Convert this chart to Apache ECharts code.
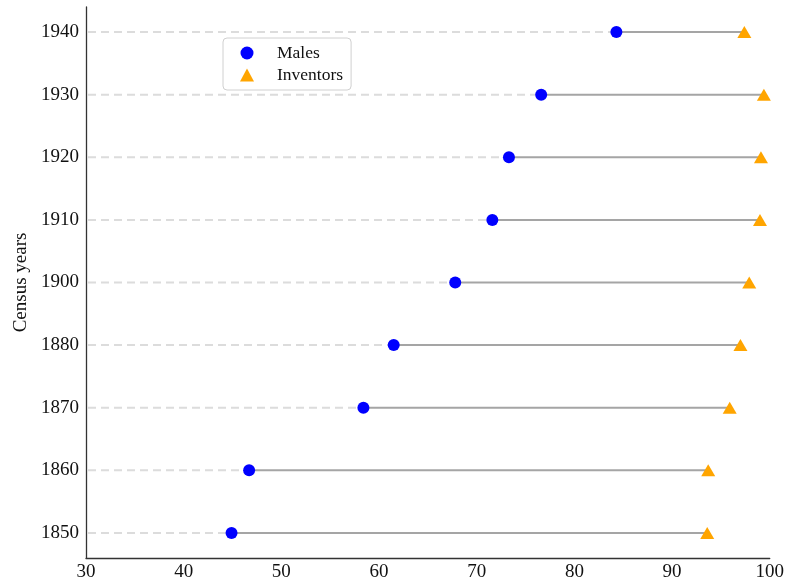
<!DOCTYPE html>
<html>
<head>
<meta charset="utf-8">
<script src="https://cdn.jsdelivr.net/npm/echarts@6/dist/echarts.min.js"></script>
<style>
  html, body { margin: 0; padding: 0; background: #fff; }
  #chart { width: 787px; height: 583px; }
</style>
</head>
<body>
<div id="chart"></div>
<script>
// Census years shown on the vertical axis (bottom to top)
const censusYears = ['1850', '1860', '1870', '1880', '1900', '1910', '1920', '1930', '1940'];
// Share of males in the population, per census year
const malesValues = [44.9, 46.7, 58.4, 61.5, 67.8, 71.6, 73.3, 76.6, 84.3];
// Share of males among inventors, per census year
const inventorsValues = [93.6, 93.7, 95.9, 97.0, 97.9, 99.0, 99.1, 99.4, 97.4];
// Horizontal axis range and tick labels
const xTicks = [30, 40, 50, 60, 70, 80, 90, 100];

const xMin = xTicks[0];
const xMax = xTicks[xTicks.length - 1];
const rowIdx = censusYears.map((_, i) => i);

const FONT = '"Liberation Serif", "DejaVu Serif", serif';

const chart = echarts.init(document.getElementById('chart'), null, { renderer: 'canvas' });

const option = {
  animation: false,
  backgroundColor: '#ffffff',
  grid: { left: 86, right: 15, top: 7, bottom: 25, containLabel: false },
  xAxis: {
    type: 'value',
    min: xMin,
    max: xMax,
    interval: 10,
    axisLine: { show: true, onZero: false, lineStyle: { color: '#333', width: 1.3 } },
    axisTick: { show: false },
    splitLine: { show: false },
    axisLabel: { color: '#111', fontFamily: FONT, fontSize: 19, margin: 5 }
  },
  yAxis: {
    type: 'value',
    min: -0.4,
    max: rowIdx.length - 1 + 0.4,
    name: 'Census years',
    nameLocation: 'middle',
    nameGap: 54,
    nameRotate: 90,
    nameTextStyle: { color: '#111', fontFamily: FONT, fontSize: 19 },
    axisLine: { show: true, onZero: false, lineStyle: { color: '#333', width: 1.3 } },
    axisTick: { show: false, customValues: rowIdx },
    splitLine: { show: false },
    axisLabel: {
      customValues: rowIdx,
      color: '#111',
      fontFamily: FONT,
      fontSize: 19,
      margin: 7,
      formatter: v => censusYears[Math.round(v)] ?? ''
    }
  },
  legend: {
    left: 223,
    top: 38,
    orient: 'vertical',
    padding: [6, 8, 6, 17],
    itemWidth: 14,
    itemHeight: 13,
    itemGap: 4,
    borderColor: '#d0d0d0',
    borderWidth: 1,
    borderRadius: 4,
    backgroundColor: '#ffffff',
    textStyle: { color: '#111', fontFamily: FONT, fontSize: 17.5, padding: [0, 0, 0, 18] },
    data: [
      { name: 'Males', icon: 'circle' },
      { name: 'Inventors', icon: 'triangle' }
    ]
  },
  series: [
    {
      // dashed guide from the axis to the male value, solid link to the inventor value
      type: 'custom',
      silent: true,
      z: 1,
      data: rowIdx.map(i => [i, malesValues[i], inventorsValues[i]]),
      encode: { y: 0, x: [1, 2] },
      renderItem: function (params, api) {
        const y = api.value(0);
        const p0 = api.coord([xMin, y]);
        const pm = api.coord([api.value(1), y]);
        const pi = api.coord([api.value(2), y]);
        return {
          type: 'group',
          children: [
            {
              type: 'line',
              shape: { x1: p0[0] + 2, y1: p0[1], x2: pm[0], y2: pm[1] },
              style: { stroke: '#dcdcdc', lineWidth: 2, lineDash: [8, 5] }
            },
            {
              type: 'line',
              shape: { x1: pm[0], y1: pm[1], x2: pi[0], y2: pi[1] },
              style: { stroke: '#a5a5a5', lineWidth: 2 }
            }
          ]
        };
      }
    },
    {
      name: 'Males',
      type: 'scatter',
      z: 3,
      symbol: 'circle',
      symbolSize: 12,
      itemStyle: { color: '#0000ff', opacity: 1 },
      data: rowIdx.map(i => [malesValues[i], i])
    },
    {
      name: 'Inventors',
      type: 'scatter',
      z: 3,
      symbol: 'triangle',
      symbolSize: [14, 12],
      itemStyle: { color: '#ffa500', opacity: 1 },
      data: rowIdx.map(i => [inventorsValues[i], i])
    }
  ]
};

chart.setOption(option);
</script>
</body>
</html>
